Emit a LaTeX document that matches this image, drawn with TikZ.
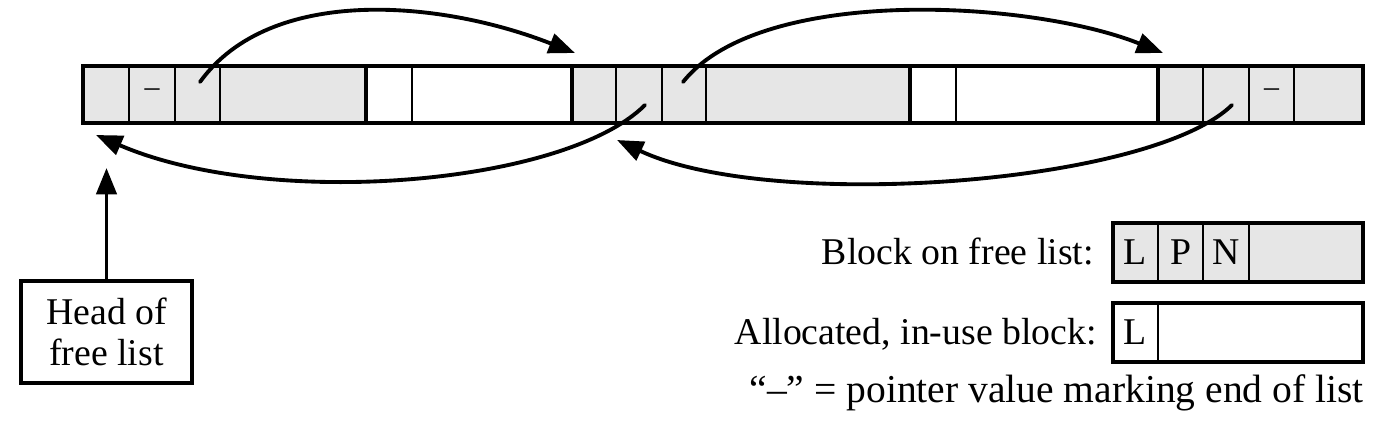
\documentclass[tikz,border=0pt]{standalone}
\usepackage{fontspec}
\setmainfont{Liberation Serif}
\usetikzlibrary{arrows.meta, calc}
\definecolor{freegray}{HTML}{E6E6E6}
\tikzset{
  ptr/.style={line width=2.2pt, line cap=round, -{Triangle[length=15pt,width=11.5pt]}},
  cellline/.style={line width=1.2pt},
  blockline/.style={line width=2pt},
  edgeline/.style={line width=2.2pt},
  txt/.style={font=\fontsize{21.5}{23.5}\selectfont, inner sep=0pt},
}

\begin{document}
\begin{tikzpicture}[x=0.02cm, y=-0.02cm]
        \useasboundingbox (0,0) rectangle (1381,422);

        \fill[freegray] (83,66) rectangle (366,123);
        \fill[freegray] (572,66) rectangle (910,123);
        \fill[freegray] (1158,66) rectangle (1363,123);

        \foreach \x in {129,175,220,412,616,662,706,956,1203,1249,1294}
            \draw[cellline] (\x,66) -- (\x,123);
        \foreach \x in {366,572,910,1158}
            \draw[blockline] (\x,66) -- (\x,123);
        \draw[edgeline] (83,66) rectangle (1363,123);

        \node[txt, font=\fontsize{17}{17}\selectfont] (endA) at (152,93) {–};
        \node[txt, font=\fontsize{17}{17}\selectfont] (endB) at (1271.5,93) {–};

        \coordinate (N1) at (200,82);
        \coordinate (B2) at (575,53);
        \coordinate (N2) at (683,82);
        \coordinate (B3) at (1163,53);
        \coordinate (P2) at (645,105);
        \coordinate (B1) at (96,135);
        \coordinate (P3) at (1232,105);
        \coordinate (B2low) at (617,140);

        \draw[ptr] (N1) .. controls (270,-15) and (440,0) .. (B2);
        \draw[ptr] (N2) .. controls (760,-15) and (1030,0) .. (B3);
        \draw[ptr] (P2) .. controls (565,185) and (270,210) .. (B1);
        \draw[ptr] (P3) .. controls (1150,185) and (770,212) .. (B2low);

        \node[draw, edgeline, txt, align=center, minimum width=3.42cm, minimum height=2.04cm] (head) at (106.5,332) {Head of\\free list};
        \coordinate (headtip) at (106.5,168);
        \draw[ptr] (head) -- (headtip);

        \fill[freegray] (1113,223) rectangle (1363,282);
        \foreach \x in {1158,1203,1249}
            \draw[cellline] (\x,223) -- (\x,282);
        \draw[edgeline] (1113,223) rectangle (1363,282);
        \node[txt, anchor=base] (fL) at (1135.5,264) {L};
        \node[txt, anchor=base] (fP) at (1180.5,264) {P};
        \node[txt, anchor=base] (fN) at (1226,264) {N};

        \draw[cellline] (1158,303) -- (1158,362);
        \draw[edgeline] (1113,303) rectangle (1363,362);
        \node[txt, anchor=base] (uL) at (1135.5,344) {L};

        \node[txt, anchor=base east] (freelbl) at (1094,264) {Block on free list:};
        \node[txt, anchor=base east] (usedlbl) at (1097,344) {Allocated, in-use block:};
        \node[txt, font=\fontsize{22.5}{24}\selectfont, anchor=base east] (endlbl) at (1364,402) {“–” = pointer value marking end of list};
\end{tikzpicture}
\end{document}
